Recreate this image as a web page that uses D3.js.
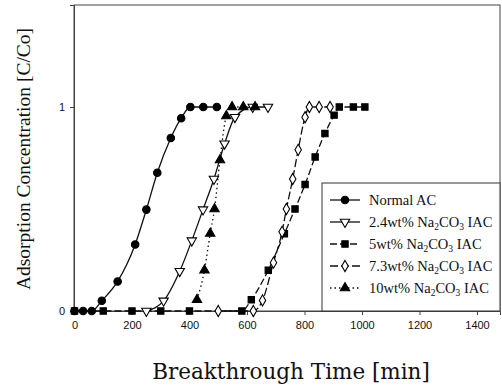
<!DOCTYPE html>
<html>
<head>
<meta charset="utf-8">
<script src="https://cdn.jsdelivr.net/npm/d3@7"></script>
<style>
  body { margin: 0; background: #fff; }
  svg { display: block; }
</style>
</head>
<body>
<div id="chart"></div>
<script>
// data, [time (min), C/Co]
const seriesNames = ["Normal AC", "2.4wt%", "5wt%", "7.3wt%", "10wt%"];

const normalAC = [[0,0],[30,0],[60,0],[95,0.05],[150,0.145],[211,0.326],[250,0.497],[288,0.678],[335,0.848],[371,0.945],[403,1],[448,1],[495,1]];
const iac24 = [[250,0],[310,0.05],[366,0.195],[408,0.345],[447,0.497],[485,0.647],[522,0.82],[558,0.95],[620,1],[673,1]];
const iac5 = [[0,0],[100,0],[200,0],[300,0],[400,0],[582,0],[615,0.055],[674,0.2],[730,0.379],[767,0.5],[802,0.62],[837,0.755],[871,0.87],[903,0.96],[921,1],[970,1],[1010,1]];
const iac73 = [[500,0],[622,0],[654,0.052],[692,0.237],[722,0.388],[737,0.5],[759,0.647],[778,0.79],[802,0.95],[817,1],[851,1],[889,1]];
const iac10 = [[426,0.055],[452,0.2],[472,0.38],[487,0.5],[506,0.74],[528,0.956],[548,1],[587,1],[628,1]];

const xTicks = [0, 200, 400, 600, 800, 1000, 1200, 1400];
const yTicks = [0, 1];

const width = 502, height = 386;
const margin = { top: 5, right: 2, bottom: 75, left: 74 };

const svg = d3.select("#chart").append("svg")
  .attr("width", width)
  .attr("height", height);

const x = d3.scaleLinear().domain([0, 1480]).range([margin.left + 0.5, width - margin.right]);
const y = d3.scaleLinear().domain([0, 1.5]).range([height - margin.bottom, margin.top]);

// frame
svg.append("rect")
  .attr("x", margin.left).attr("y", margin.top)
  .attr("width", width - margin.right - margin.left)
  .attr("height", height - margin.bottom - margin.top)
  .attr("fill", "none").attr("stroke", "#444").attr("stroke-width", 1);

// axes
const xAxis = svg.append("g")
  .attr("transform", `translate(0,${height - margin.bottom})`)
  .call(d3.axisBottom(x).tickValues(xTicks).tickFormat(d3.format("d")).tickSize(4).tickPadding(6));
const yAxis = svg.append("g")
  .attr("transform", `translate(${margin.left},0)`)
  .call(d3.axisLeft(y).tickValues(yTicks).tickFormat(d3.format("d")).tickSize(4).tickPadding(5));
[xAxis, yAxis].forEach(g => {
  g.select(".domain").attr("stroke", "#444");
  g.selectAll(".tick line").attr("stroke", "#444");
  g.selectAll("text").attr("font-family", "Liberation Sans, Arial, sans-serif")
    .attr("font-size", 11).attr("fill", "#111");
});

const line = d3.line()
  .x(d => x(d[0]))
  .y(d => y(d[1]))
  .curve(d3.curveMonotoneX);

const styles = [
  { data: normalAC, dash: null, marker: "circle", fill: "#000" },
  { data: iac24, dash: null, marker: "triangleDown", fill: "#fff" },
  { data: iac5, dash: "7,3", marker: "square", fill: "#000" },
  { data: iac73, dash: "8,3", marker: "diamond", fill: "#fff" },
  { data: iac10, dash: "1.5,3", marker: "triangle", fill: "#000" }
];

const symbolType = {
  circle: d3.symbolCircle,
  square: d3.symbolSquare,
  diamond: d3.symbolDiamond,
  triangle: d3.symbolTriangle,
  triangleDown: d3.symbolTriangle
};
const symbolSize = { circle: 44, square: 40, diamond: 36, triangle: 38, triangleDown: 38 };

function drawMarker(g, kind, fill, cx, cy) {
  g.append("path")
    .attr("d", d3.symbol().type(symbolType[kind]).size(symbolSize[kind])())
    .attr("transform", `translate(${cx},${cy})` + (kind === "triangleDown" ? " rotate(180)" : ""))
    .attr("fill", fill)
    .attr("stroke", "#000")
    .attr("stroke-width", 1.1);
}

styles.forEach(s => {
  svg.append("path")
    .datum(s.data)
    .attr("d", line)
    .attr("fill", "none")
    .attr("stroke", "#111")
    .attr("stroke-width", 1.3)
    .attr("stroke-dasharray", s.dash);
});
styles.forEach(s => {
  const g = svg.append("g");
  s.data.forEach(d => drawMarker(g, s.marker, s.fill, x(d[0]), y(d[1])));
});

// legend
const legend = svg.append("g");
legend.append("rect")
  .attr("x", 322).attr("y", 183)
  .attr("width", width - margin.right - 322).attr("height", height - margin.bottom - 183)
  .attr("fill", "#fff").attr("stroke", "#333").attr("stroke-width", 1);

const legendLabels = [
  ["Normal AC"],
  ["2.4wt% Na", "2", "CO", "3", " IAC"],
  ["5wt% Na", "2", "CO", "3", " IAC"],
  ["7.3wt% Na", "2", "CO", "3", " IAC"],
  ["10wt% Na", "2", "CO", "3", " IAC"]
];

styles.forEach((s, i) => {
  const ly = 200 + i * 22;
  legend.append("line")
    .attr("x1", 330).attr("x2", 360).attr("y1", ly).attr("y2", ly)
    .attr("stroke", "#111").attr("stroke-width", 1.3)
    .attr("stroke-dasharray", s.dash);
  drawMarker(legend, s.marker, s.fill, 345, ly);
  const t = legend.append("text")
    .attr("x", 369).attr("y", ly + 5)
    .attr("font-family", "Liberation Serif, Times New Roman, serif")
    .attr("font-size", 14.5).attr("fill", "#111");
  legendLabels[i].forEach((part, j) => {
    const sub = j % 2 === 1;
    t.append("tspan")
      .attr("font-size", sub ? 9.5 : 14.5)
      .attr("dy", sub ? 3 : (j > 0 ? -3 : 0))
      .text(part);
  });
});

// axis titles
svg.append("text")
  .attr("transform", "translate(30,159) rotate(-90)")
  .attr("text-anchor", "middle")
  .attr("font-family", "Liberation Serif, Times New Roman, serif")
  .attr("font-size", 19.5).attr("fill", "#111")
  .text("Adsorption Concentration [C/Co]");

svg.append("text")
  .attr("x", 291).attr("y", 379)
  .attr("text-anchor", "middle")
  .attr("font-family", "DejaVu Serif, serif")
  .attr("font-size", 21.5).attr("fill", "#111")
  .text("Breakthrough Time [min]");
</script>
</body>
</html>
